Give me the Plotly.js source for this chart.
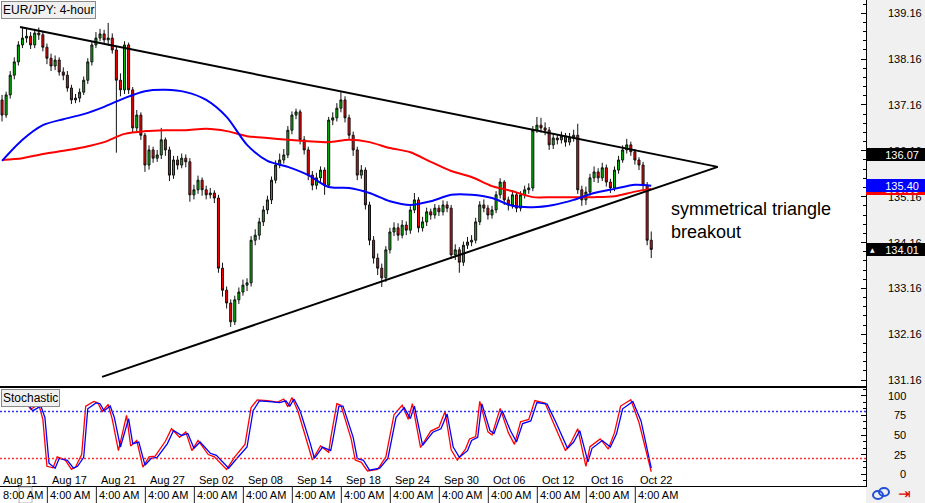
<!DOCTYPE html>
<html>
<head>
<meta charset="utf-8">
<script src="https://cdn.plot.ly/plotly-3.0.1.min.js"></script>
<style>
html,body{margin:0;padding:0;background:#fff;}
#chart{width:925px;height:503px;}
</style>
</head>
<body>
<div id="chart"></div>
<script>
// ---------------- DATA ----------------
// EUR/JPY 4-hour candles (one entry per candle, oldest first)
const openPx = [137.27,136.94,137.38,137.81,138.10,138.47,138.62,138.66,138.47,138.73,
138.69,138.42,138.18,138.01,138.14,137.88,137.81,137.53,137.27,137.31,
137.44,137.70,138.10,138.47,138.62,138.71,138.58,138.62,138.36,137.70,
137.49,138.47,137.49,136.66,136.94,136.50,135.85,136.18,136.00,136.07,
136.40,136.18,135.63,135.96,135.85,136.00,135.92,135.20,135.31,135.52,
135.31,135.20,135.24,135.13,133.60,133.12,132.84,132.43,132.91,133.08,
133.23,133.28,134.21,134.32,134.61,134.87,135.09,135.52,135.85,135.96,
136.07,136.61,136.94,137.01,136.40,136.18,135.63,135.41,135.57,135.74,
135.41,136.83,136.88,137.09,137.27,136.88,136.50,136.18,135.63,135.74,
134.98,134.21,133.82,133.60,133.39,134.00,134.39,134.48,134.32,134.54,
134.43,134.87,135.09,134.48,134.61,134.83,134.76,134.91,134.83,134.98,
134.91,133.89,134.00,133.73,134.10,134.17,134.21,134.61,134.98,134.91,
134.76,134.87,135.20,135.48,135.09,134.98,135.20,134.91,135.20,135.31,
135.35,136.61,136.72,136.66,136.61,136.29,136.44,136.40,136.48,136.35,
136.44,136.50,135.31,135.09,135.26,135.57,135.70,135.57,135.79,135.48,
135.35,135.74,135.96,136.18,136.29,136.14,135.96,135.85,135.41,134.21];
const highPx = [137.38,137.45,137.90,138.20,138.55,138.86,138.84,138.75,138.82,138.85,
138.76,138.50,138.28,138.24,138.20,137.98,137.90,137.60,137.40,137.52,
137.78,138.18,138.55,138.75,138.82,138.80,138.95,138.72,138.45,137.85,
138.55,138.52,137.55,137.05,137.00,136.55,136.28,136.25,136.18,136.66,
136.45,136.25,136.05,136.05,136.10,136.08,136.00,135.42,135.62,135.58,
135.40,135.35,135.30,135.20,133.72,133.20,132.92,133.00,133.18,133.35,
133.38,134.30,134.45,134.70,134.96,135.18,135.60,135.95,136.10,136.20,
136.70,137.02,137.08,137.06,136.48,136.25,135.72,135.68,135.82,135.80,
136.90,137.00,137.20,137.44,137.35,136.95,136.58,136.25,135.85,135.80,
135.05,134.30,133.92,133.70,134.08,134.48,134.60,134.58,134.65,134.62,
134.95,135.24,135.15,134.72,134.92,134.90,135.00,134.98,135.08,135.06,
134.98,134.12,134.06,134.18,134.28,134.32,134.70,135.06,135.10,134.98,
134.96,135.28,135.56,135.52,135.16,135.30,135.26,135.28,135.40,135.45,
136.70,136.90,136.88,136.78,136.68,136.55,136.52,136.58,136.55,136.55,
136.62,136.75,135.40,135.38,135.66,135.82,135.78,135.90,135.86,135.55,
135.82,136.05,136.28,136.42,136.36,136.20,136.02,135.92,135.48,134.40];
const lowPx = [136.80,136.88,137.30,137.72,138.02,138.40,138.52,138.38,138.40,138.58,
138.33,138.05,137.90,137.92,137.80,137.70,137.45,137.18,137.20,137.22,
137.38,137.62,138.02,138.40,138.55,138.50,138.45,138.28,136.12,137.35,
137.40,137.40,136.55,136.58,136.40,135.70,135.75,135.90,135.92,135.98,
136.05,135.50,135.55,135.75,135.78,135.80,135.05,135.10,135.22,135.18,
135.10,135.12,135.02,133.50,132.98,132.72,132.32,132.36,132.82,133.00,
133.10,133.20,134.10,134.22,134.52,134.78,135.00,135.45,135.78,135.88,
136.00,136.52,136.85,136.30,136.08,135.52,135.30,135.32,135.48,135.20,
135.35,136.72,136.80,137.00,136.78,136.40,136.05,135.52,135.55,134.88,
134.10,133.70,133.45,133.19,133.30,133.92,134.30,134.20,134.25,134.32,
134.35,134.80,134.38,134.40,134.52,134.66,134.68,134.74,134.75,134.82,
133.80,133.78,133.50,133.65,134.02,134.08,134.14,134.54,134.82,134.66,
134.68,134.80,135.12,134.98,134.86,134.90,134.82,134.84,135.12,135.22,
135.28,136.55,136.56,136.50,136.18,136.20,136.30,136.32,136.25,136.28,
136.36,135.22,134.96,134.98,135.18,135.48,135.46,135.50,135.38,135.24,
135.28,135.66,135.90,136.10,136.05,135.86,135.74,135.30,134.10,133.82];
const closePx = [136.94,137.38,137.81,138.10,138.47,138.62,138.66,138.47,138.73,138.69,
138.42,138.18,138.01,138.14,137.88,137.81,137.53,137.27,137.31,137.44,
137.70,138.10,138.47,138.62,138.71,138.58,138.62,138.36,137.70,137.49,
138.47,137.49,136.66,136.94,136.50,135.85,136.18,136.00,136.07,136.40,
136.18,135.63,135.96,135.85,136.00,135.92,135.20,135.31,135.52,135.31,
135.20,135.24,135.13,133.60,133.12,132.84,132.43,132.91,133.08,133.23,
133.28,134.21,134.32,134.61,134.87,135.09,135.52,135.85,135.96,136.07,
136.61,136.94,137.01,136.40,136.18,135.63,135.41,135.57,135.74,135.41,
136.83,136.88,137.09,137.27,136.88,136.50,136.18,135.63,135.74,134.98,
134.21,133.82,133.60,133.39,134.00,134.39,134.48,134.32,134.54,134.43,
134.87,135.09,134.48,134.61,134.83,134.76,134.91,134.83,134.98,134.91,
133.89,134.00,133.73,134.10,134.17,134.21,134.61,134.98,134.91,134.76,
134.87,135.20,135.48,135.09,134.98,135.20,134.91,135.20,135.31,135.35,
136.61,136.72,136.66,136.61,136.29,136.44,136.40,136.48,136.35,136.44,
136.50,135.31,135.09,135.26,135.57,135.70,135.57,135.79,135.48,135.35,
135.74,135.96,136.18,136.29,136.14,135.96,135.85,135.41,134.21,134.01];

// Moving averages (sampled at candle indices)
const maIdx  = [0,5,10,15,20,25,30,35,40,45,50,55,60,65,70,75,80,85,90,95,100,105,110,115,120,125,130,135,140,145,150,155,159];
const maBlue = [135.94,136.40,136.72,136.85,136.96,137.12,137.31,137.46,137.49,137.44,137.27,136.90,136.29,135.94,135.81,135.63,135.37,135.35,135.24,135.06,134.98,135.06,135.20,135.20,135.13,134.96,134.93,134.98,135.09,135.24,135.33,135.42,135.40];
const maRed  = [135.96,136.00,136.09,136.16,136.24,136.35,136.53,136.59,136.61,136.61,136.64,136.59,136.48,136.44,136.40,136.37,136.35,136.40,136.35,136.22,136.13,135.92,135.72,135.59,135.39,135.28,135.15,135.15,135.15,135.15,135.17,135.27,135.33];

// Triangle trendlines (candle index, price)
const upperLineX = [4.4, 175.3];
const upperLineY = [138.86, 135.81];
const lowerLineX = [24.5, 175.3];
const lowerLineY = [131.23, 135.81];

// Stochastic: signal (blue) and main (red)
const stochBlueX = [0,6,7.5,9.5,10.5,11.5,13,14,16,17.5,18.5,20,21,23,24,25,26.5,27.5,29,31,32,33.5,35,36.5,38,40.5,42,44,45.5,47,48.5,51,52.5,55.5,57.5,60,61.5,63,65.5,68,69.5,70.5,71.5,73,75.5,76.5,78.5,80.5,81,82.5,83.5,86,87,88.5,90,92.5,94.5,96.5,98.5,100,101,103,105.5,107.5,109,110.5,112,114,115,116.5,117.5,119.5,120.5,122.5,124.5,126,127.5,129.5,131,133.5,135.5,138.5,140,141.5,143.5,144.5,147,149,150.5,152,154.5,156.5,159];
const stochBlue  = [91.5,92.8,81,87,72.5,14,7.6,20,17.7,7.6,10,21.5,83.5,91,90,81,87,72.5,34.6,71,39,41,11.4,20,21.5,39,55.7,49.4,52,33,41,26.6,24,7.6,20,34.6,81,93.7,92.8,91.5,93.7,87,96,81,39,20,34.6,30,43,87,87,47,20,17.7,5,7.6,20,72.5,85,71,87,36.7,53.5,58,77,34.6,21.5,30,43,47,90,55.7,52,81,55.7,41,64.6,68,91.5,89.5,68,33,41,55.7,15.6,33,43,34.6,51.5,83.5,92.8,68,7.6];
const stochRedX  = [0,5.5,7,9,10,11,12.5,13.5,15.5,17,18,19.5,20.5,22.5,23.5,24.5,26,27,28.5,30.5,31.5,33,34.5,36,37.5,40,41.5,43.5,45,46.5,48,50.5,52,55,57,59.5,61,62.5,65,67.5,69,70,71,72.5,75,76,78,80,80.5,82,83,85.5,86.5,88,89.5,92,94,96,98,99.5,100.5,102.5,105,107,108.5,110,111.5,113.5,114.5,116,117,119,120,122,124,125.5,127,129,130.5,133,135,138,139.5,141,143,144,146.5,148.5,150,151.5,154,156,159];
const stochRed   = [93,94,83,89,70,10,8,22,18,6,9,25,87,93,91,80,89,70,30,75,36,43,9,22,23,42,58,47,54,30,43,25,22,6,22,38,85,95,94,92,96,86,98,80,36,18,36,28,46,90,88,45,18,15,4,6,22,76,88,70,90,34,55,60,80,31,18,32,45,48,93,54,50,84,53,38,67,70,94,91,66,30,42,58,10,35,45,32,53,87,95,66,3];
const stochLevels = [80, 20];

// Axis labels
const priceTicks = [131.16,132.16,133.16,134.16,135.16,136.16,137.16,138.16,139.16];
const stochTicks = [0,25,50,75,100];
const dateTickIdx = [-0.5,11.5,23.5,35.5,47.5,59.5,71.5,83.5,95.5,107.5,119.5,131.5,143.5,155.5];
const dateLabels = ['Aug 11','Aug 17','Aug 21','Aug 27','Sep 02','Sep 08','Sep 14','Sep 18','Sep 24','Sep 30','Oct 06','Oct 12','Oct 16','Oct 22'];
const timeSepIdx = [11.1,23.1,35.1,47.1,59.1,71.1,83.1,95.1,107.1,119.1,131.1,143.1,155.1];
const timeLabels = ['8:00 AM','4:00 AM','4:00 AM','4:00 AM','4:00 AM','4:00 AM','4:00 AM','4:00 AM','4:00 AM','4:00 AM','4:00 AM','4:00 AM','4:00 AM','4:00 AM'];
const lastPrice = 134.01, upperAtEnd = 136.07;

// ---------------- LAYOUT GEOMETRY ----------------
const W = 925, H = 503, MR = 59, MB = 17;
const plotW = W - MR, plotH = H - MB;        // 866 x 486
const mainBottomPx = 386, stochTopPx = 388;
const yMainRange = [131.03, 139.45];
const yStochRange = [-15.2, 110.1];
const xRange = [-0.5, 211.6];
const px2px = v => v / plotW;                 // pixel x -> paper x
const py2py = v => (plotH - v) / plotH;       // pixel y -> paper y
const mainDomain = [py2py(mainBottomPx), 1];
const stochDomain = [0, py2py(stochTopPx)];

const idx = openPx.map((_, i) => i);
const FONT = 'Liberation Sans, Arial, sans-serif';
const NB = '\u00a0';

const traces = [
  {type:'candlestick', x: idx, open: openPx, high: highPx, low: lowPx, close: closePx,
   xaxis:'x', yaxis:'y', whiskerwidth:0, hoverinfo:'skip',
   increasing:{line:{color:'#111', width:1}, fillcolor:'#00c000'},
   decreasing:{line:{color:'#111', width:1}, fillcolor:'#ff0000'}},
  {type:'scatter', mode:'lines', x: maIdx, y: maRed, xaxis:'x', yaxis:'y',
   line:{color:'#ff0000', width:2, shape:'spline', smoothing:0.8}, hoverinfo:'skip'},
  {type:'scatter', mode:'lines', x: maIdx, y: maBlue, xaxis:'x', yaxis:'y',
   line:{color:'#0000ff', width:2, shape:'spline', smoothing:0.8}, hoverinfo:'skip'},
  {type:'scatter', mode:'lines', x: upperLineX, y: upperLineY, xaxis:'x', yaxis:'y',
   line:{color:'#000', width:2}, hoverinfo:'skip'},
  {type:'scatter', mode:'lines', x: lowerLineX, y: lowerLineY, xaxis:'x', yaxis:'y',
   line:{color:'#000', width:2}, hoverinfo:'skip'},
  {type:'scatter', mode:'lines', x: stochRedX, y: stochRed, xaxis:'x2', yaxis:'y2',
   line:{color:'#ff0000', width:1.3}, hoverinfo:'skip'},
  {type:'scatter', mode:'lines', x: stochBlueX, y: stochBlue, xaxis:'x2', yaxis:'y2',
   line:{color:'#0000ff', width:1.3}, hoverinfo:'skip'}
];

const shapes = [];
const annotations = [];
const txt = (o) => Object.assign({showarrow:false, font:{family:FONT, size:11, color:'#000'}}, o);

// bottom time strip (white)
shapes.push({type:'rect', xref:'paper', yref:'paper', x0:0, x1:1, y0:py2py(H), y1:0,
  fillcolor:'#ffffff', line:{width:0}, layer:'below'});
timeSepIdx.forEach(v => shapes.push({type:'line', xref:'x2', yref:'paper', x0:v, x1:v,
  y0:py2py(H), y1:0, line:{color:'#222', width:1}}));
timeLabels.forEach((t, k) => annotations.push(txt({xref:'x2', yref:'paper',
  x: k === 0 ? xRange[0] : timeSepIdx[k-1], xanchor:'left', xshift:1,
  y: py2py(495.5), yanchor:'middle', text:t})));
shapes.push({type:'rect', xref:'paper', yref:'paper', x0:px2px(19), x1:px2px(32),
  y0:py2py(503), y1:py2py(487), fillcolor:'#fff', line:{color:'#b0b0b0', width:1}});

// date labels along the bottom of the stochastic window
dateLabels.forEach((t, k) => annotations.push(txt({xref:'x2', yref:'paper', x:dateTickIdx[k],
  xanchor:'left', xshift:1, y:py2py(480), yanchor:'middle', text:t})));

// stochastic levels
stochLevels.forEach((lv, k) => shapes.push({type:'line', xref:'x2 domain', yref:'y2',
  x0:0, x1:1, y0:lv, y1:lv, line:{color: k === 0 ? '#3030ff' : '#ff3030', width:1.5, dash:'2px,2px'}}));

// right scale labels
priceTicks.forEach(v => annotations.push(txt({xref:'paper', yref:'y', x:1, xanchor:'left', xshift:20,
  y:v, yanchor:'middle', text:v.toFixed(2)})));
stochTicks.forEach(v => annotations.push(txt({xref:'paper', yref:'y2', x:1, xanchor:'right', xshift:42,
  y:v, yanchor:'middle', text:String(v)})));

// price boxes on the right scale
function priceBox(price, bg, label) {
  annotations.push(txt({xref:'paper', yref:'y', x:1, xanchor:'left', y:price, yanchor:'middle',
    width:59, height:13, align:'right', valign:'middle', bgcolor:bg, borderpad:0, borderwidth:0,
    text:label + NB + NB, font:{family:FONT, size:11, color:'#fff'}}));
}
priceBox(upperAtEnd, '#000', upperAtEnd.toFixed(2));
priceBox(maRed[maRed.length-1], '#ff0000', maRed[maRed.length-1].toFixed(2));
priceBox(maBlue[maBlue.length-1], '#0000ff', maBlue[maBlue.length-1].toFixed(2));
priceBox(lastPrice, '#000', lastPrice.toFixed(2));
annotations.push({xref:'paper', yref:'y', x:1, xanchor:'left', xshift:2, y:lastPrice, yanchor:'middle',
  text:'▲', showarrow:false, font:{family:'DejaVu Sans', size:6, color:'#fff'}});

// titles
annotations.push(txt({xref:'paper', yref:'paper', x:0, xanchor:'left', xshift:1, y:1, yanchor:'top', yshift:-1,
  text:'EUR/JPY: 4-hour', bgcolor:'#f0f0f0', bordercolor:'#8a8a8a', borderwidth:1, borderpad:1,
  font:{family:FONT, size:12, color:'#000'}}));
annotations.push(txt({xref:'paper', yref:'paper', x:0, xanchor:'left', xshift:1, y:stochDomain[1], yanchor:'top', yshift:-1,
  text:'Stochastic', bgcolor:'#f0f0f0', bordercolor:'#8a8a8a', borderwidth:1, borderpad:1,
  font:{family:FONT, size:12, color:'#000'}}));
annotations.push(txt({xref:'x', yref:'y', x:163.4, xanchor:'left', y:134.63, yanchor:'middle', align:'left',
  text:'symmetrical triangle<br>breakout', font:{family:FONT, size:18, color:'#000'}}));

// bottom-right icons
shapes.push({type:'circle', xref:'paper', yref:'paper', x0:px2px(873), x1:px2px(883), y0:py2py(499), y1:py2py(491),
  line:{color:'#1f4fd8', width:2}});
shapes.push({type:'circle', xref:'paper', yref:'paper', x0:px2px(879), x1:px2px(889), y0:py2py(496), y1:py2py(488),
  line:{color:'#1f4fd8', width:2}});
annotations.push({xref:'paper', yref:'paper', x:px2px(904), xanchor:'center', y:py2py(494), yanchor:'middle',
  text:'⇥', showarrow:false, font:{family:'DejaVu Sans', size:15, color:'#e00000'}});

const axisCommon = {showgrid:false, zeroline:false, fixedrange:true, linecolor:'#000', linewidth:1, showline:true};

const layout = {
  width:W, height:H,
  margin:{l:0, r:MR, t:0, b:MB, pad:0},
  paper_bgcolor:'#f0f0f0', plot_bgcolor:'#ffffff',
  showlegend:false,
  font:{family:FONT, size:11, color:'#000'},
  xaxis:Object.assign({}, axisCommon, {anchor:'y', domain:[0,1], range:xRange, showticklabels:false,
    ticks:'', mirror:true, rangeslider:{visible:false}}),
  yaxis:Object.assign({}, axisCommon, {anchor:'x', domain:mainDomain, side:'right', range:yMainRange,
    tickvals:priceTicks, showticklabels:false, ticks:'inside', ticklen:5, tickcolor:'#000',
    minor:{tick0:131.16, dtick:0.2, ticks:'inside', ticklen:3, tickcolor:'#000', showgrid:false}}),
  xaxis2:Object.assign({}, axisCommon, {anchor:'y2', domain:[0,1], range:xRange, matches:'x',
    showticklabels:false, ticks:'', mirror:true}),
  yaxis2:Object.assign({}, axisCommon, {anchor:'x2', domain:stochDomain, side:'right', range:yStochRange,
    tickvals:stochTicks, showticklabels:false, ticks:'inside', ticklen:5, tickcolor:'#000',
    minor:{tick0:0, dtick:8.3333, ticks:'inside', ticklen:3, tickcolor:'#000', showgrid:false}}),
  shapes:shapes,
  annotations:annotations
};

Plotly.newPlot('chart', traces, layout, {staticPlot:true, displayModeBar:false});
</script>
</body>
</html>
